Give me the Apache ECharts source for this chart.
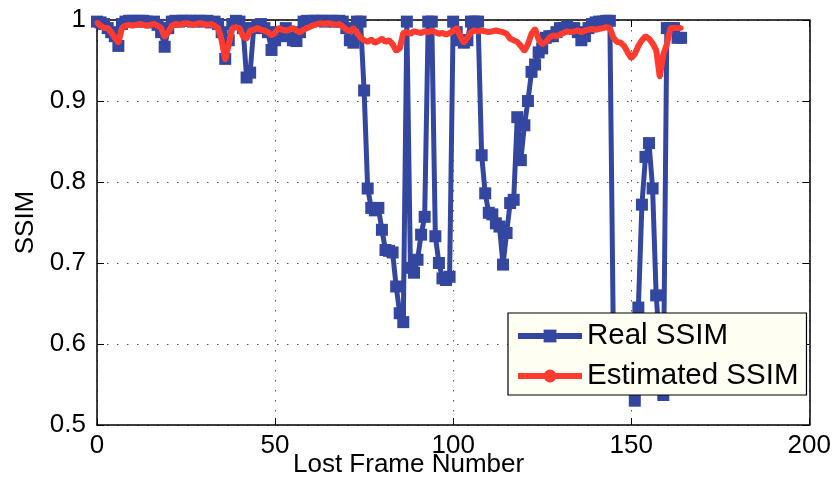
<!DOCTYPE html>
<html>
<head>
<meta charset="utf-8">
<script src="https://cdn.jsdelivr.net/npm/echarts@6/dist/echarts.min.js"></script>
<style>
  html, body { margin: 0; padding: 0; background: #fff; }
  #chart { width: 834px; height: 480px; }
</style>
</head>
<body>
<div id="chart"></div>
<script>
// Lost frame indices 0..164
const frames = Array.from({ length: 165 }, (_, i) => i);

// Measured SSIM per lost frame
const realSSIM = [
  0.998, 0.997, 0.995, 0.990, 0.985, 0.980, 0.968, 0.995, 0.998, 0.999,
  0.999, 0.998, 0.999, 0.999, 0.998, 0.997, 0.998, 0.994, 0.985, 0.967,
  0.990, 0.998, 0.999, 0.998, 0.999, 0.999, 0.999, 0.998, 0.999, 0.999,
  0.998, 0.999, 0.997, 0.998, 0.995, 0.985, 0.952, 0.975, 0.995, 0.999,
  0.998, 0.990, 0.929, 0.935, 0.990, 0.993, 0.995, 0.990, 0.985, 0.963,
  0.975, 0.985, 0.980, 0.990, 0.985, 0.975, 0.974, 0.985, 0.998, 0.999,
  0.998, 0.999, 0.999, 0.999, 0.998, 0.999, 0.999, 0.998, 0.999, 0.998,
  0.990, 0.975, 0.972, 0.998, 0.998, 0.913, 0.792, 0.768, 0.765, 0.768,
  0.741, 0.716, 0.715, 0.713, 0.671, 0.638, 0.627, 0.998, 0.694, 0.688,
  0.704, 0.735, 0.757, 0.998, 0.998, 0.733, 0.700, 0.681, 0.679, 0.683,
  0.998, 0.985, 0.975, 0.972, 0.975, 0.998, 0.998, 0.998, 0.833, 0.786,
  0.762, 0.760, 0.749, 0.745, 0.698, 0.737, 0.774, 0.778, 0.880, 0.827,
  0.870, 0.900, 0.936, 0.945, 0.960, 0.965, 0.978, 0.980, 0.980, 0.985,
  0.990, 0.990, 0.992, 0.990, 0.990, 0.985, 0.975, 0.980, 0.990, 0.995,
  0.997, 0.998, 0.998, 0.999, 0.999, 0.600, 0.580, 0.570, 0.560, 0.555,
  0.545, 0.530, 0.645, 0.772, 0.831, 0.848, 0.792, 0.660, 0.600, 0.537,
  0.990, 0.990, 0.990, 0.978, 0.978
];

// Estimated SSIM per lost frame
const estimatedSSIM = [
  0.997, 0.993, 0.990, 0.990, 0.985, 0.978, 0.972, 0.990, 0.993, 0.994,
  0.993, 0.994, 0.995, 0.994, 0.993, 0.994, 0.995, 0.993, 0.990, 0.979,
  0.985, 0.993, 0.995, 0.994, 0.995, 0.996, 0.995, 0.994, 0.995, 0.996,
  0.995, 0.994, 0.995, 0.993, 0.990, 0.975, 0.951, 0.970, 0.990, 0.991,
  0.990, 0.980, 0.977, 0.987, 0.988, 0.990, 0.988, 0.987, 0.985, 0.981,
  0.984, 0.990, 0.988, 0.987, 0.988, 0.990, 0.987, 0.985, 0.988, 0.990,
  0.992, 0.994, 0.995, 0.996, 0.995, 0.996, 0.995, 0.994, 0.995, 0.992,
  0.988, 0.986, 0.990, 0.984, 0.978, 0.975, 0.973, 0.976, 0.972, 0.974,
  0.977, 0.973, 0.975, 0.970, 0.962, 0.965, 0.984, 0.985, 0.983, 0.986,
  0.985, 0.984, 0.986, 0.985, 0.987, 0.985, 0.983, 0.984, 0.982, 0.984,
  0.986, 0.990, 0.980, 0.972, 0.978, 0.985, 0.987, 0.986, 0.987, 0.986,
  0.985, 0.986, 0.987, 0.986, 0.985, 0.983, 0.977, 0.975, 0.973, 0.968,
  0.962, 0.970, 0.983, 0.989, 0.976, 0.970, 0.973, 0.978, 0.981, 0.980,
  0.982, 0.984, 0.986, 0.985, 0.986, 0.987, 0.985, 0.987, 0.988, 0.989,
  0.988, 0.989, 0.990, 0.991, 0.990, 0.978, 0.973, 0.972, 0.968, 0.960,
  0.953, 0.958, 0.968, 0.975, 0.980, 0.977, 0.971, 0.963, 0.930, 0.957,
  0.970, 0.990, 0.990, 0.990, 0.990
];

const xTicks = [0, 50, 100, 150, 200];
const yTicks = [0.5, 0.6, 0.7, 0.8, 0.9, 1];

const FONT = 'Liberation Sans';
const BLUE = '#3447a0';
const RED = '#ff3b30';

const chart = echarts.init(document.getElementById('chart'), null, { renderer: 'canvas' });

const gridDots = { show: true, lineStyle: { color: '#555', width: 1, type: [1.5, 8.5] } };
const axisLine = { show: true, onZero: false, lineStyle: { color: '#000', width: 1.5 } };
const innerTick = { show: true, inside: true, length: 7, lineStyle: { color: '#000' } };

chart.setOption({
  animation: false,
  backgroundColor: '#fff',
  grid: { left: 97, right: 24, top: 20, bottom: 55 },
  xAxis: [{
    type: 'value',
    min: xTicks[0], max: xTicks[xTicks.length - 1], interval: 50,
    axisLine,
    axisTick: innerTick,
    axisLabel: { color: '#000', fontFamily: FONT, fontSize: 26, margin: 8 },
    splitLine: gridDots
  }, {
    type: 'value', position: 'top',
    min: xTicks[0], max: xTicks[xTicks.length - 1], interval: 50,
    axisLine,
    axisTick: innerTick,
    axisLabel: { show: false },
    splitLine: { show: false }
  }],
  yAxis: [{
    type: 'value',
    min: yTicks[0], max: yTicks[yTicks.length - 1], interval: 0.1,
    name: 'SSIM', nameLocation: 'middle', nameGap: 57,
    nameTextStyle: { color: '#000', fontFamily: FONT, fontSize: 26 },
    axisLine,
    axisTick: innerTick,
    axisLabel: {
      color: '#000', fontFamily: FONT, fontSize: 26, margin: 11,
      formatter: v => String(+v.toFixed(1))
    },
    splitLine: gridDots
  }, {
    type: 'value', position: 'right',
    min: yTicks[0], max: yTicks[yTicks.length - 1], interval: 0.1,
    axisLine,
    axisTick: innerTick,
    axisLabel: { show: false },
    splitLine: { show: false }
  }],
  legend: {
    left: 508, top: 313,
    orient: 'vertical',
    backgroundColor: '#fefef3',
    borderColor: '#000', borderWidth: 1.2, borderRadius: 0,
    padding: [8, 8, 4, 7],
    itemWidth: 64, itemHeight: 16, itemGap: 10,
    lineStyle: { width: 6 },
    textStyle: { color: '#000', fontFamily: FONT, fontSize: 29.5 },
    data: ['Real SSIM', 'Estimated SSIM']
  },
  graphic: [{
    type: 'text', left: 293, top: 452,
    style: { text: 'Lost Frame Number', fill: '#000', font: '26px "Liberation Sans"' }
  }],
  series: [{
    name: 'Real SSIM',
    type: 'line',
    data: frames.map((f, i) => [f, realSSIM[i]]),
    clip: false,
    symbol: 'rect', symbolSize: 12,
    lineStyle: { color: BLUE, width: 5 },
    itemStyle: { color: BLUE },
    z: 2
  }, {
    name: 'Estimated SSIM',
    type: 'line',
    data: frames.map((f, i) => [f, estimatedSSIM[i]]),
    clip: false,
    symbol: 'circle', symbolSize: 5,
    lineStyle: { color: RED, width: 6 },
    itemStyle: { color: RED },
    z: 3
  }]
});
</script>
</body>
</html>
